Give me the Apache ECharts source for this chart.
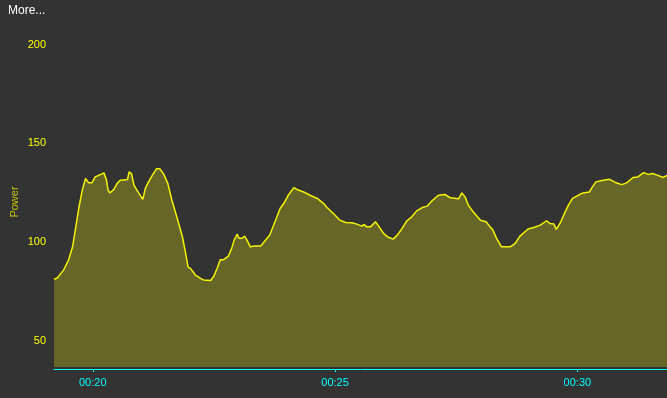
<!DOCTYPE html>
<html>
<head>
<meta charset="utf-8">
<script src="https://cdn.jsdelivr.net/npm/echarts@6/dist/echarts.min.js"></script>
<style>
html,body{margin:0;padding:0;background:#333333;}
#chart{width:667px;height:398px;}
</style>
</head>
<body>
<div id="chart"></div>
<script>
// elapsed time in seconds
var times = [1152,1156,1164,1170,1175,1179,1183,1187,1191,1195,1199,1203,1210,1214,1217,1219,1221,1226,1230,1234,
  1243,1245,1248,1251,1256,1262,1265,1269,1275,1279,1283,1288,1293,1298,1304,1311,1315,1318,1321,1327,
  1333,1337,1346,1350,1354,1358,1362,1368,1372,1375,1379,1381,1385,1388,1391,1395,1401,1408,1414,1419,
  1424,1428,1432,1437,1442,1449,1453,1461,1469,1478,1486,1490,1498,1506,1513,1521,1527,1533,1536,1539,
  1544,1550,1554,1560,1566,1572,1577,1583,1589,1595,1601,1608,1614,1620,1628,1636,1643,1653,1657,1661,
  1665,1671,1680,1687,1692,1695,1700,1706,1717,1723,1729,1739,1746,1754,1762,1766,1771,1774,1779,1784,
  1789,1794,1801,1807,1815,1818,1823,1832,1840,1847,1855,1861,1869,1875,1882,1888,1893,1900,1906,1911];
var power = [81.2,81.8,85.9,90.9,97.6,107.7,117.8,126.3,132.2,130,130,133,134.3,135,131.3,126.3,124.9,126.6,129.6,131.3,
  131.7,135.5,134.7,128.8,125.4,121.6,127.1,130.5,134.7,137.2,137.2,134.3,129.6,121.2,112.8,102.7,94.3,87.3,86.7,83.3,
  81.7,80.8,80.5,82.8,86.7,91.1,91.1,92.9,96.8,101,104,101.9,101.9,103,101,97.6,98,98,101,103.5,
  108.6,112.8,117,119.9,123.7,127.6,126.6,125.4,123.7,122.1,119.5,117.5,114.5,111.1,109.9,109.8,109.1,108.1,108.9,107.7,
  107.7,110.3,108.1,104.4,102.4,101.5,103.5,106.9,110.8,112.8,115.8,117.5,118.2,120.9,123.7,124.1,122.4,121.9,124.9,122.9,
  118.7,115.3,111.1,110.3,107.7,106.4,101.9,97.6,97.6,99.3,103,106.6,107.4,108.6,110.8,109.4,109.1,106.4,109.8,114.5,
  118.7,122.1,123.7,124.9,125.4,127.6,130.5,131.3,131.8,130.2,129.1,130,132.7,133,135.2,134.3,134.7,133.8,132.7,133.8];
var xTicks = [1200, 1500, 1800];
var yTicks = [50, 100, 150, 200];
var yName = 'Power';
var titleText = 'More...';

var chart = echarts.init(document.getElementById('chart'), null, {renderer: 'canvas'});
var seriesData = times.map(function (t, i) { return [t, power[i]]; });
function fmtTime(s) {
  var m = Math.round(s / 60);
  var h = Math.floor(m / 60);
  m = m % 60;
  return (h < 10 ? '0' : '') + h + ':' + (m < 10 ? '0' : '') + m;
}
chart.setOption({
  backgroundColor: '#333333',
  animation: false,
  textStyle: {fontFamily: 'Liberation Sans, Arial, sans-serif'},
  title: {
    text: titleText, left: 8, top: 5, padding: 0,
    textStyle: {color: '#ffffff', fontSize: 12, fontWeight: 'normal', fontFamily: 'Liberation Sans, Arial, sans-serif'}
  },
  grid: {left: 54, right: 0, top: 37, bottom: 31, containLabel: false, outerBoundsMode: 'none'},
  xAxis: {
    type: 'value',
    min: 1152, max: 1911,
    offset: 2,
    axisLine: {show: true, lineStyle: {color: '#00ffff', width: 1}},
    axisTick: {show: true, customValues: xTicks, length: 3, lineStyle: {color: '#00ffff'}},
    axisLabel: {
      show: true, customValues: xTicks, color: '#00ffff', fontSize: 11, margin: 8,
      formatter: function (v) { return fmtTime(v); }
    },
    splitLine: {show: false}
  },
  yAxis: {
    type: 'value',
    min: 36.7, max: 203.9,
    name: yName,
    nameLocation: 'middle',
    nameRotate: 90,
    nameGap: 34,
    nameMoveOverlap: false,
    nameTextStyle: {color: '#c4c400', fontSize: 11},
    axisLine: {show: false},
    axisTick: {show: false},
    axisLabel: {show: true, customValues: yTicks, color: '#ffff00', fontSize: 11, margin: 8},
    splitLine: {show: false}
  },
  series: [{
    type: 'line',
    data: seriesData,
    showSymbol: false,
    smooth: false,
    lineStyle: {color: '#f4f400', width: 1.5},
    areaStyle: {color: '#666629', opacity: 1},
    clip: true
  }]
});
</script>
</body>
</html>
